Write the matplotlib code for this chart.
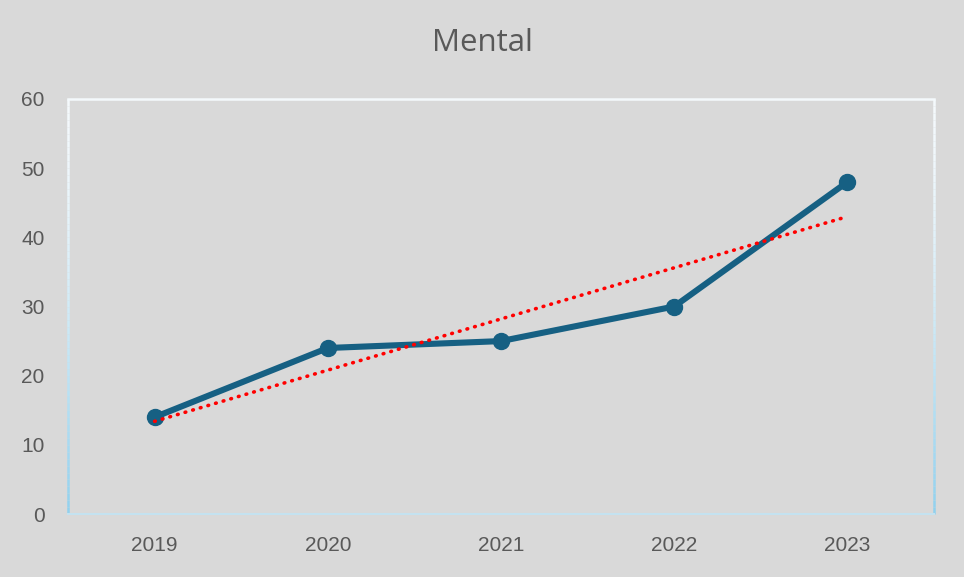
import matplotlib
matplotlib.use("Agg")
import matplotlib.pyplot as plt
import numpy as np
from matplotlib.collections import LineCollection
from matplotlib.colors import to_rgb

categories = ["2019", "2020", "2021", "2022", "2023"]
values = [14, 24, 25, 30, 48]
yticks = [0, 10, 20, 30, 40, 50, 60]
title = "Mental"

bg = "#d9d9d9"
fig = plt.figure(figsize=(9.64, 5.77), dpi=100, facecolor=bg)
ax = fig.add_axes([68/964, 63/577, 866/964, 415/577], facecolor=bg)

x = np.arange(len(categories))
ax.plot(x, values, color="#166083", lw=4.4, marker="o", markersize=11.5,
        solid_capstyle="round", solid_joinstyle="round", zorder=3)

# linear trendline (least squares, like Excel)
coef = np.polyfit(x, values, 1)
ax.plot(x, np.polyval(coef, x), color="#ff0000", lw=2.6, linestyle=(0, (0.2, 2.0)),
        dash_capstyle="round", zorder=4)

ax.set_xlim(-0.5, len(categories) - 0.5)
ax.set_ylim(0, 60)
ax.set_xticks(x)
ax.set_xticklabels(categories)
ax.set_yticks(yticks)
ax.tick_params(length=0, labelsize=15, colors="#595959")
ax.tick_params(axis="x", pad=16)
ax.tick_params(axis="y", pad=17)
for lab in ax.get_xticklabels() + ax.get_yticklabels():
    lab.set_family("Liberation Sans")
for s in ax.spines.values():
    s.set_visible(False)

# gradient border
top_c = np.array(to_rgb("#f4f9fc"))
bot_c = np.array(to_rgb("#8fd0ee"))
n = 60
ys = np.linspace(60, 0, n + 1)
segs, cols = [], []
for xv in (-0.5, len(categories) - 0.5):
    for i in range(n):
        segs.append([(xv, ys[i]), (xv, ys[i + 1])])
        t = (i + 0.5) / n
        cols.append(top_c * (1 - t**1.5) + bot_c * t**1.5)
lc = LineCollection(segs, colors=cols, linewidths=1.8, transform=ax.transData,
                    clip_on=False, zorder=2)
ax.add_collection(lc)
ax.plot([-0.5, len(categories) - 0.5], [60, 60], color="#f4f9fc", lw=1.8, clip_on=False, zorder=2)
ax.plot([-0.5, len(categories) - 0.5], [0, 0], color="#c4e2f0", lw=1.5, clip_on=False, zorder=2)

fig.text(0.5, 1 - 43/577, title, ha="center", va="center", fontsize=22.5,
         color="#595959", family="Open Sans")

fig.savefig("out.png", dpi=100, facecolor=bg)
